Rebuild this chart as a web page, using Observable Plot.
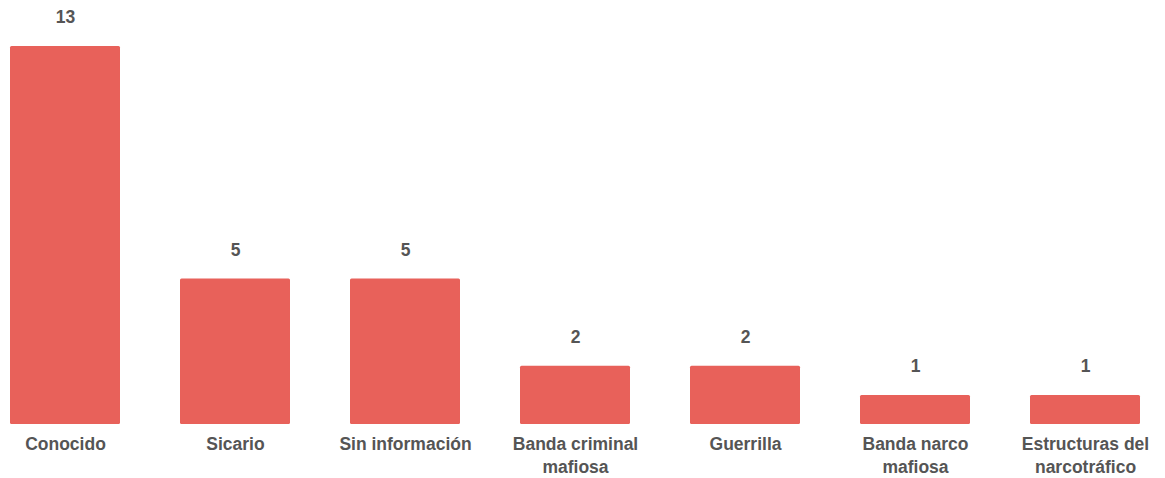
<!DOCTYPE html>
<html>
<head>
<meta charset="utf-8">
<script src="https://cdn.jsdelivr.net/npm/d3@7"></script>
<script src="https://cdn.jsdelivr.net/npm/@observablehq/plot@0.6"></script>
<style>
  html, body { margin: 0; padding: 0; background: #fff; }
  #chart { width: 1165px; height: 478px; }
</style>
</head>
<body>
<div id="chart"></div>
<script>
const categories = ["Conocido", "Sicario", "Sin información", "Banda criminal mafiosa", "Guerrilla", "Banda narco mafiosa", "Estructuras del narcotráfico"];
const tickLabels = ["Conocido", "Sicario", "Sin información", "Banda criminal\nmafiosa", "Guerrilla", "Banda narco\nmafiosa", "Estructuras del\nnarcotráfico"];
const values = [13, 5, 5, 2, 2, 1, 1];

const data = categories.map((c, i) => ({cat: c, value: values[i], label: tickLabels[i]}));

const chart = Plot.plot({
  width: 1165,
  height: 478,
  marginLeft: 10,
  marginRight: 25,
  marginTop: 46,
  marginBottom: 54,
  style: {fontFamily: "'Liberation Sans', Arial, sans-serif", background: "#fff"},
  x: {domain: categories, paddingInner: 0.353, paddingOuter: 0, axis: null},
  y: {domain: [0, 13], axis: null},
  marks: [
    Plot.barY(data, {x: "cat", y: "value", fill: "#e8615a", rx: 1.5}),
    Plot.text(data, {x: "cat", y: "value", text: d => String(d.value), dy: -29, fontSize: 17.5, fontWeight: "bold", fill: "#555"}),
    Plot.text(data, {x: "cat", y: 0, text: "label", dy: 9, lineAnchor: "top", lineHeight: 1.32, fontSize: 17.5, fontWeight: "bold", fill: "#555"})
  ]
});
document.getElementById("chart").appendChild(chart);
</script>
</body>
</html>
